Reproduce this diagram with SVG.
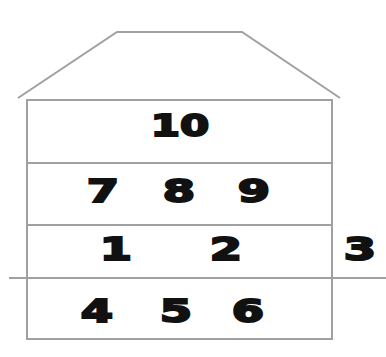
<svg xmlns="http://www.w3.org/2000/svg" width="386" height="357" viewBox="0 0 386 357">
<style>
.ln{fill:none;stroke:#a0a0a0;stroke-width:2}
.t{font-family:"DejaVu Sans","Liberation Sans",Arial,sans-serif;font-weight:bold;font-size:32px;fill:#111;stroke:#111;stroke-width:2;text-anchor:middle}
.s{font-size:30px}
</style>
<rect width="386" height="357" fill="#fff"/>
<g id="roof"><polyline class="ln" points="18,98 117,32 242,32 340,98"/></g>
<g id="ground"><line class="ln" x1="9" y1="278" x2="386" y2="278"/></g>
<g id="floor-top"><rect class="ln" x="27" y="100" width="305" height="63"/><text class="t s" transform="translate(180,136) scale(1.4,1)">10</text></g>
<g id="floor-3"><rect class="ln" x="27" y="163" width="305" height="62"/><text class="t" transform="translate(103,202) scale(1.45,1)">7</text><text class="t" transform="translate(179,202) scale(1.45,1)">8</text><text class="t" transform="translate(254,202) scale(1.45,1)">9</text></g>
<g id="floor-ground"><rect class="ln" x="27" y="225" width="305" height="53"/><text class="t" transform="translate(116,260) scale(1.45,1)">1</text><text class="t" transform="translate(226,260) scale(1.45,1)">2</text></g>
<g id="outside"><text class="t" transform="translate(360,260) scale(1.45,1)">3</text></g>
<g id="basement"><rect class="ln" x="27" y="278" width="305" height="61"/><text class="t" transform="translate(97,322) scale(1.45,1)">4</text><text class="t" transform="translate(176,322) scale(1.45,1)">5</text><text class="t" transform="translate(248,322) scale(1.45,1)">6</text></g>
</svg>
